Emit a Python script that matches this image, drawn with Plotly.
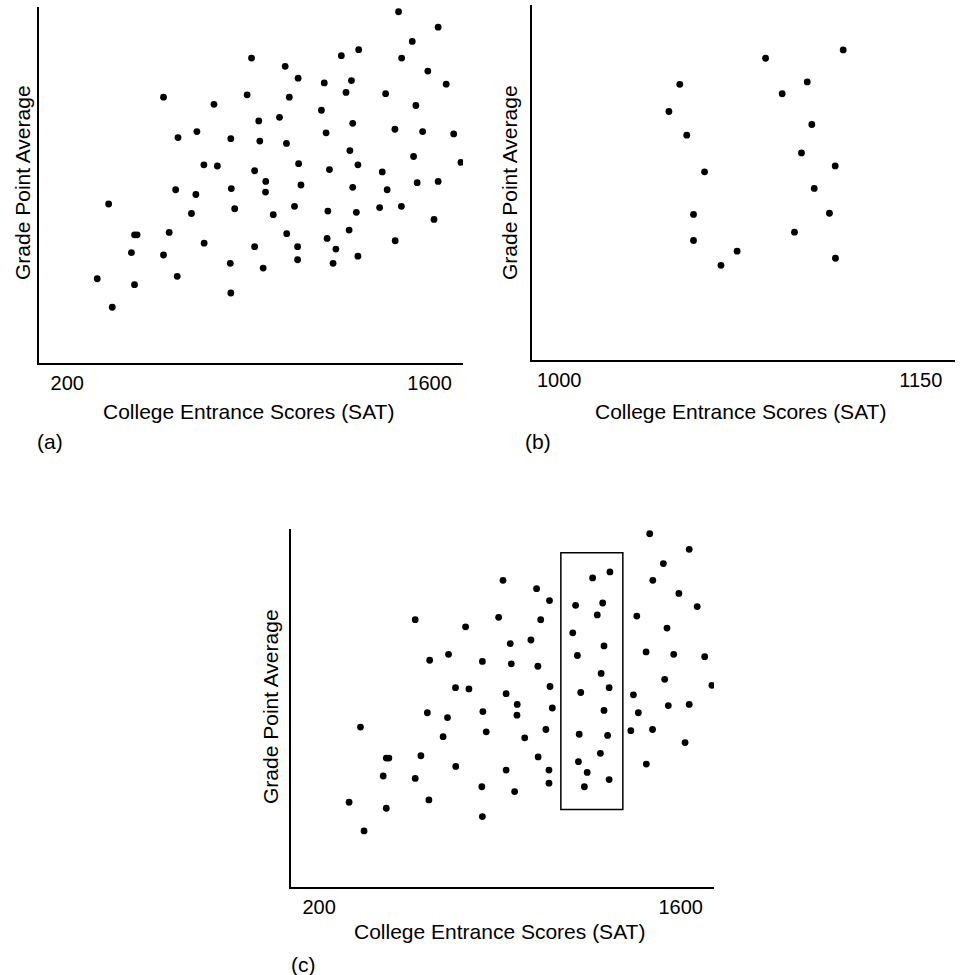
import plotly.graph_objects as go

# Full sample: SAT score and GPA for each student (panels a and c)
sat_all = [1480, 1633, 1533, 1326, 1259, 1492, 912, 1042, 1593, 1092,
           1193, 1298, 1664, 1277, 1430, 895, 1058, 572, 767, 1547,
           1182, 1020, 940, 1303, 1466, 1573, 701, 1200, 1693, 628,
           832, 944, 1047, 1292, 1538, 1721, 728, 780, 1094, 1323,
           1213, 924, 1417, 967, 1552, 1633, 1103, 1303, 619, 834,
           1436, 697, 966, 360, 1078, 1407, 1491, 847, 680, 1207,
           1317, 996, 1617, 1289, 594, 460, 470, 1048, 1204, 729,
           1467, 924, 1090, 1238, 448, 572, 1323, 1090, 830, 1227,
           957, 625, 316, 460, 832, 374]
gpa_all = [3.96, 3.83, 3.71, 3.64, 3.59, 3.57, 3.57, 3.50, 3.46, 3.40,
           3.36, 3.38, 3.35, 3.28, 3.27, 3.26, 3.24, 3.24, 3.18, 3.17,
           3.13, 3.07, 3.04, 3.02, 2.97, 2.95, 2.95, 2.94, 2.93, 2.90,
           2.89, 2.87, 2.85, 2.79, 2.74, 2.69, 2.67, 2.66, 2.68, 2.67,
           2.63, 2.62, 2.61, 2.53, 2.52, 2.53, 2.50, 2.48, 2.46, 2.47,
           2.46, 2.42, 2.44, 2.34, 2.32, 2.31, 2.32, 2.30, 2.26, 2.28,
           2.27, 2.25, 2.21, 2.12, 2.10, 2.08, 2.08, 2.09, 2.05, 2.01,
           2.03, 1.98, 1.98, 1.96, 1.93, 1.91, 1.90, 1.87, 1.84, 1.84,
           1.80, 1.73, 1.71, 1.66, 1.59, 1.47]

# Restricted range sample (panel b)
sat_narrow = [1085.6, 1117.8, 1050.0, 1102.9, 1092.5, 1045.5, 1104.8, 1052.9,
              1100.5, 1060.3, 1114.5, 1105.8, 1055.7, 1112.1, 1097.6, 1055.7,
              1073.8, 1067.1, 1114.6]
gpa_narrow = [3.55, 3.62, 3.33, 3.35, 3.25, 3.10, 2.99, 2.90, 2.75, 2.59,
              2.64, 2.45, 2.23, 2.24, 2.08, 2.01, 1.92, 1.80, 1.86]

# Tick labels
ticks_full = [200, 1600]
ticks_narrow = [1000, 1150]

# Window highlighted in panel c
box_sat = [1136, 1376]
box_gpa = [1.65, 3.80]

FONT = "Liberation Sans, Arial, Helvetica, sans-serif"
W, H = 961, 975

fig = go.Figure()
marker = dict(color="black", size=6.8, line=dict(width=0))
fig.add_trace(go.Scatter(x=sat_all, y=gpa_all, mode="markers", marker=marker,
                         xaxis="x", yaxis="y", showlegend=False))
fig.add_trace(go.Scatter(x=sat_narrow, y=gpa_narrow, mode="markers", marker=marker,
                         xaxis="x2", yaxis="y2", showlegend=False))
fig.add_trace(go.Scatter(x=sat_all, y=gpa_all, mode="markers", marker=marker,
                         xaxis="x3", yaxis="y3", showlegend=False))


def px_x(a, b):
    return [a / W, b / W]


def px_y(top, bottom):
    return [1 - bottom / H, 1 - top / H]


def xax(domain, rng, ticks, anchor):
    return dict(domain=domain, range=rng, anchor=anchor,
                tickmode="array", tickvals=ticks, ticktext=[str(t) for t in ticks],
                ticks="outside", ticklen=1, tickcolor="rgba(0,0,0,0)",
                showline=True, linecolor="black", linewidth=2,
                showgrid=False, zeroline=False, automargin=False,
                tickfont=dict(family=FONT, size=20, color="black"))


def yax(domain, anchor):
    return dict(domain=domain, range=[1.0, 4.0], anchor=anchor,
                showticklabels=False, ticks="",
                showline=True, linecolor="black", linewidth=2,
                showgrid=False, zeroline=False, automargin=False)


full_range = [91, 1729]
narrow_range = [988.7, 1164.2]

fig.update_layout(
    width=W, height=H,
    margin=dict(l=0, r=0, t=0, b=0),
    paper_bgcolor="white", plot_bgcolor="white",
    template="none",
    showlegend=False,
    font=dict(family=FONT, size=21, color="black"),
    xaxis=xax(px_x(39, 463), full_range, ticks_full, "y"),
    yaxis=yax(px_y(7, 363), "x"),
    xaxis2=xax(px_x(532, 955), narrow_range, ticks_narrow, "y2"),
    yaxis2=yax(px_y(5, 360), "x2"),
    xaxis3=xax(px_x(291, 714), full_range, ticks_full, "y3"),
    yaxis3=yax(px_y(529, 887), "x3"),
)

fig.add_shape(type="rect", xref="x3", yref="y3",
              x0=box_sat[0], x1=box_sat[1], y0=box_gpa[0], y1=box_gpa[1],
              line=dict(color="black", width=1.5), fillcolor="rgba(0,0,0,0)")


def note(text, xpx, ypx, angle=0, xanchor="center"):
    fig.add_annotation(text=text, xref="paper", yref="paper",
                       x=xpx / W, y=1 - ypx / H, showarrow=False,
                       textangle=angle, xanchor=xanchor, yanchor="middle",
                       font=dict(family=FONT, size=21, color="black"))


xtitle = "College Entrance Scores (SAT)"
ytitle = "Grade Point Average"

note(xtitle, 248.5, 411)
note(ytitle, 22, 183, angle=-90)
note("(a)", 35, 441, xanchor="left")

note(xtitle, 740, 411)
note(ytitle, 510, 182, angle=-90)
note("(b)", 523, 441, xanchor="left")

note(xtitle, 500, 931)
note(ytitle, 270, 707, angle=-90)
note("(c)", 289, 964, xanchor="left")

fig.write_html("out.html")
